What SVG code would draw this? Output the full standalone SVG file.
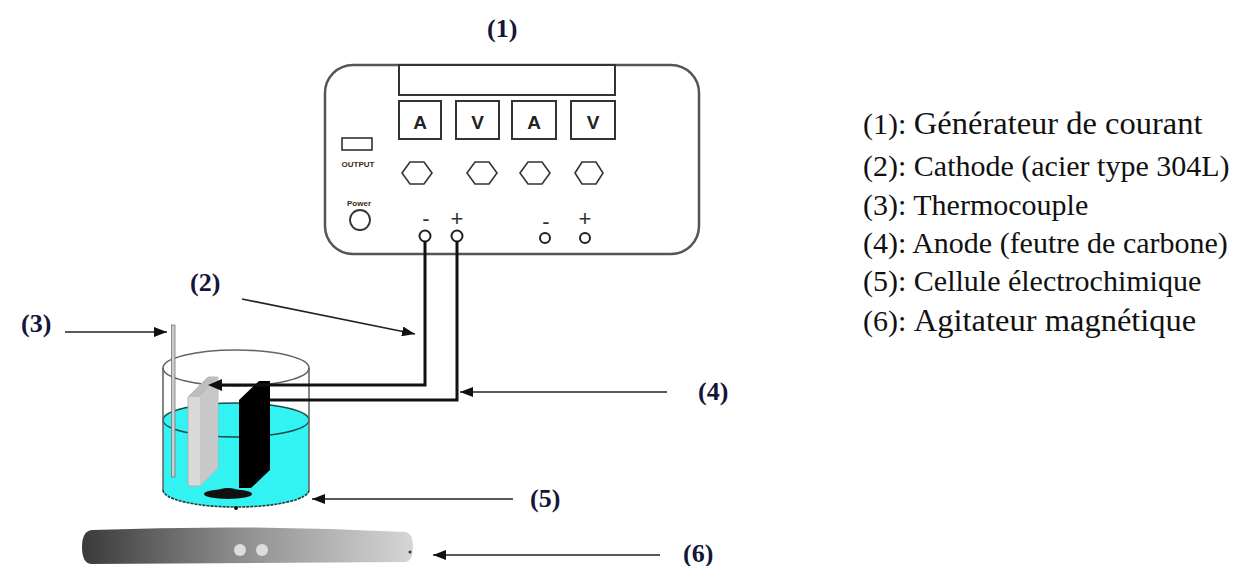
<svg xmlns="http://www.w3.org/2000/svg" width="1241" height="566" viewBox="0 0 1241 566">
  <defs>
    <marker id="arrow" markerUnits="userSpaceOnUse" markerWidth="14" markerHeight="10" refX="13" refY="5" orient="auto">
      <path d="M0,0 L13,5 L0,10 Z" fill="#111"/>
    </marker>
    <linearGradient id="stirrerShade" x1="0" y1="0" x2="1" y2="0">
      <stop offset="0" stop-color="#3a3a3a"/>
      <stop offset="0.45" stop-color="#8a8a8a"/>
      <stop offset="1" stop-color="#d6d6d6"/>
    </linearGradient>
    <style>
      .lbl { font-family: "Liberation Serif", "Times New Roman", serif; font-weight: bold; font-size: 26px; fill: #15153a; }
      .leg { font-family: "Liberation Serif", "Times New Roman", serif; font-size: 30px; fill: #111; }
      .meter { fill: #fff; stroke: #333; stroke-width: 2; }
      .meterTxt { font-family: "Liberation Sans", Arial, sans-serif; font-weight: bold; font-size: 19px; fill: #222; text-anchor: middle; }
      .knob { fill: #fff; stroke: #333; stroke-width: 1.6; }
      .term { fill: #fff; stroke: #222; stroke-width: 2; }
      .sign { font-family: "Liberation Sans", Arial, sans-serif; font-size: 22px; fill: #333; text-anchor: middle; }
      .tiny { font-family: "Liberation Sans", Arial, sans-serif; font-weight: bold; font-size: 8px; fill: #3a2a10; text-anchor: middle; }
      .wire { fill: none; stroke: #111; stroke-width: 3; }
      .pointer { fill: none; stroke: #222; stroke-width: 1.6; marker-end: url(#arrow); }
      .glass { fill: none; stroke: #666; stroke-width: 1.6; }
    </style>
  </defs>

  <!-- (1) current generator -->
  <g id="generator">
    <rect x="325" y="65" width="374" height="189" rx="28" ry="28" fill="#fff" stroke="#555" stroke-width="2.5"/>
    <rect x="399" y="65" width="216" height="30" fill="#fff" stroke="#333" stroke-width="2"/>
    <rect class="meter" x="399" y="101" width="42" height="38"/>
    <rect class="meter" x="456" y="101" width="43" height="38"/>
    <rect class="meter" x="512" y="101" width="44" height="38"/>
    <rect class="meter" x="571" y="101" width="44" height="38"/>
    <text class="meterTxt" x="420" y="129">A</text>
    <text class="meterTxt" x="477.5" y="129">V</text>
    <text class="meterTxt" x="534" y="129">A</text>
    <text class="meterTxt" x="593" y="129">V</text>
    <rect x="342" y="138" width="30" height="12" fill="#fff" stroke="#333" stroke-width="1.6"/>
    <text class="tiny" x="358" y="167">OUTPUT</text>
    <polygon class="knob" points="402,173 410,162 424,162 432,173 424,184 410,184"/>
    <polygon class="knob" points="467,173 475,162 489,162 497,173 489,184 475,184"/>
    <polygon class="knob" points="520,173 528,162 542,162 550,173 542,184 528,184"/>
    <polygon class="knob" points="575,173 582,162 596,162 603,173 596,184 582,184"/>
    <text class="tiny" x="359" y="206">Power</text>
    <circle cx="360" cy="220" r="10" fill="#fff" stroke="#333" stroke-width="1.8"/>
    <text class="sign" x="426" y="226">-</text>
    <text class="sign" x="457" y="226">+</text>
    <text class="sign" x="546" y="229">-</text>
    <text class="sign" x="585" y="226">+</text>
    <circle class="term" cx="425" cy="236" r="5.5"/>
    <circle class="term" cx="457" cy="236" r="5.5"/>
    <circle class="term" cx="545" cy="238" r="5"/>
    <circle class="term" cx="585" cy="238" r="5"/>
  </g>

  <!-- (6) magnetic stirrer plate -->
  <g id="stirrer">
    <path d="M92,530 Q250,524 405,532 Q413,533 413,547 Q413,561 405,562 L92,564 Q82,564 82,547 Q82,531 92,530 Z" fill="url(#stirrerShade)"/>
    <circle cx="240" cy="550" r="6" fill="#ddd"/>
    <circle cx="262" cy="550" r="6" fill="#ddd"/>
    <circle cx="410" cy="552" r="1.5" fill="#333"/>
  </g>

  <!-- (5) electrochemical cell -->
  <g id="cell">
    <!-- water -->
    <path d="M163,420 A73,17 0 0 1 309,420 L309,490 A73,17 0 0 1 163,490 Z" fill="#33f2f2"/>
    <ellipse cx="236" cy="420" rx="73" ry="17" fill="none" stroke="#1d4a4a" stroke-width="1.4"/>
    <path d="M163,490 A73,17 0 0 0 309,490" fill="none" stroke="#1d3a3a" stroke-width="1.6" stroke-dasharray="3,1"/>
    <!-- glass -->
    <ellipse class="glass" cx="236" cy="368" rx="73" ry="18"/>
    <line class="glass" x1="163" y1="368" x2="163" y2="490"/>
    <line class="glass" x1="309" y1="368" x2="309" y2="490"/>
    <!-- stirring bar -->
    <ellipse cx="228" cy="494" rx="24" ry="5" fill="#111"/>
    <ellipse cx="228" cy="491" rx="10" ry="3" fill="#111"/>
    <circle cx="236" cy="508" r="2" fill="#111"/>
  </g>

  <!-- (3) thermocouple -->
  <g id="thermocouple">
    <rect x="171.5" y="325" width="3.5" height="152" fill="#ccc" stroke="#777" stroke-width="0.8"/>
  </g>

  <!-- (2) cathode, 304L steel plate -->
  <g id="cathode">
    <polygon points="188,397 208,377 218,377 218,468 200,486 188,486" fill="#d9d9d9" stroke="#aaa" stroke-width="0.8"/>
    <polygon points="188,397 208,377 218,377 200,397" fill="#bdbdbd"/>
    <polygon points="200,397 218,377 218,468 200,486" fill="#c8c8c8"/>
  </g>

  <!-- (4) anode, carbon felt -->
  <g id="anode">
    <polygon points="239,400 259,381 270,381 270,470 251,488 239,488" fill="#000"/>
  </g>

  <!-- connectors: leads and label pointers -->
  <g id="connectors">
    <path class="wire" d="M425,241 V385 H220"/>
    <path d="M222,379 L208,385 L222,391 Z" fill="#111"/>
    <path class="wire" d="M457,241 V400 H270"/>
    <line class="pointer" x1="242" y1="299" x2="415" y2="334"/>
    <line class="pointer" x1="65" y1="332" x2="167" y2="332"/>
    <line class="pointer" x1="667" y1="392" x2="460" y2="392"/>
    <line class="pointer" x1="513" y1="499" x2="312" y2="499"/>
    <line class="pointer" x1="660" y1="555" x2="433" y2="555"/>
  </g>

  <!-- number tags -->
  <g id="tags">
    <text class="lbl" x="487" y="37">(1)</text>
    <text class="lbl" x="190" y="291">(2)</text>
    <text class="lbl" x="21" y="332">(3)</text>
    <text class="lbl" x="698" y="400">(4)</text>
    <text class="lbl" x="530" y="507">(5)</text>
    <text class="lbl" x="683" y="562">(6)</text>
  </g>

  <!-- legend -->
  <g id="legend">
    <text class="leg" x="863" y="134">(1): <tspan font-size="32.5">Générateur de courant</tspan></text>
    <text class="leg" x="863" y="176">(2): Cathode (acier type 304L)</text>
    <text class="leg" x="863" y="215">(3): Thermocouple</text>
    <text class="leg" x="863" y="253">(4): Anode (feutre de carbone)</text>
    <text class="leg" x="863" y="291">(5): Cellule électrochimique</text>
    <text class="leg" x="863" y="331">(6): <tspan font-size="32.5">Agitateur magnétique</tspan></text>
  </g>
</svg>
